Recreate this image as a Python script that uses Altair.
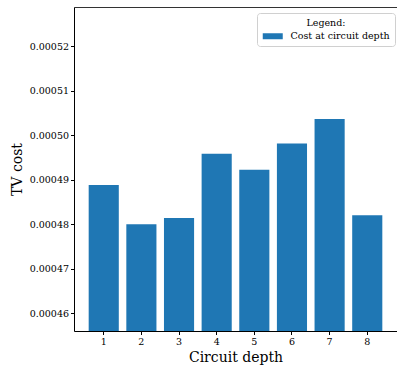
import altair as alt
import pandas as pd

depths = [1, 2, 3, 4, 5, 6, 7, 8]
costs = [0.0004888, 0.0004800, 0.0004814, 0.0004958, 0.0004922, 0.0004981, 0.0005036, 0.0004820]
series_label = "Cost at circuit depth"
y_ticks = [0.00046, 0.00047, 0.00048, 0.00049, 0.00050, 0.00051, 0.00052]
y_domain = [min(costs) * 0.95, max(costs) * 1.05]

df = pd.DataFrame({"depth": depths, "cost": costs, "series": [series_label] * len(depths)})

FONT = "DejaVu Serif"
BLUE = "#1f77b4"

x_scale = alt.Scale(paddingInner=0.2, paddingOuter=0.39)
y_scale = alt.Scale(domain=y_domain, nice=False, zero=False)

axis_common = dict(
    grid=False,
    domainColor="black",
    domainWidth=1,
    tickColor="black",
    tickWidth=1,
    tickSize=3.5,
    labelPadding=2,
    labelFont=FONT,
    labelFontSize=9.5,
    labelColor="black",
    titleFont=FONT,
    titleFontSize=14,
    titleFontWeight="normal",
    titleColor="black",
)

bars = alt.Chart(df).mark_bar(clip=True).encode(
    x=alt.X("depth:O", scale=x_scale,
            axis=alt.Axis(title="Circuit depth", labelAngle=0, titlePadding=4, **axis_common)),
    y=alt.Y("cost:Q", scale=y_scale,
            axis=alt.Axis(title="TV cost", values=y_ticks, format=".5f", titlePadding=5, **axis_common)),
    color=alt.Color("series:N", scale=alt.Scale(range=[BLUE]),
                    legend=alt.Legend(
                        title="Legend:", orient="none", legendX=183, legendY=6,
                        titleAnchor="middle", titleFont=FONT, titleFontSize=9.5,
                        titleFontWeight="normal", titleColor="black", titlePadding=4,
                        labelFont=FONT, labelFontSize=9.5, labelColor="black",
                        labelOffset=13, symbolOffset=6,
                        symbolType="M-2.5,-0.75H2.5V0.75H-2.5Z", symbolSize=64,
                        symbolStrokeWidth=0, symbolOpacity=1,
                        fillColor="white", strokeColor="#d0d0d0", cornerRadius=3,
                        padding=5,
                    )),
)

top_spine = alt.Chart(df).mark_bar(opacity=0).encode(
    x=alt.X("depth:O", scale=x_scale,
            axis=alt.Axis(orient="top", title=None, labels=False, ticks=False, grid=False,
                          domainColor="#333333", domainWidth=1)),
    y=alt.Y("cost:Q", scale=y_scale),
)

chart = alt.layer(bars, top_spine).resolve_axis(x="independent").properties(
    width=323,
    height=324,
    autosize=alt.AutoSizeParams(type="none"),
    padding={"left": 74, "top": 7, "right": 0, "bottom": 34},
).configure_view(stroke=None).configure(background="white")

chart.save("out.html", embed_options={"renderer": "svg", "actions": False})
